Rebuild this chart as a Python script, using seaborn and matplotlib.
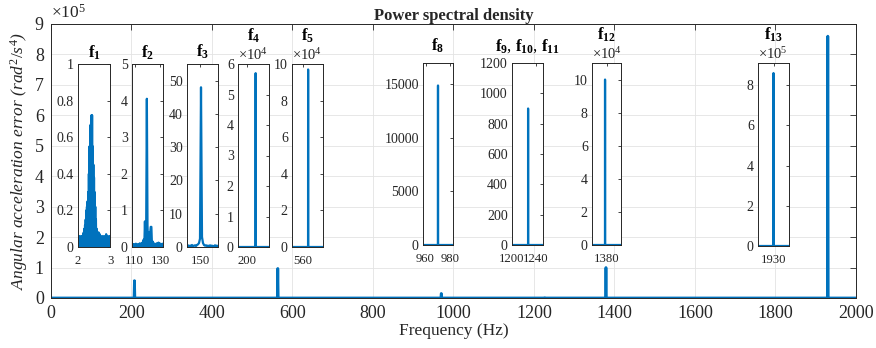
import numpy as np
import pandas as pd
import matplotlib
matplotlib.use("Agg")
import matplotlib.pyplot as plt
import seaborn as sns

# ---------------- data ----------------
# main spectrum peaks (Hz, rad^2/s^4)
peak_freqs = [2.44, 119.5, 151, 208, 564, 970, 1227, 1379, 1930]
peak_psd = [0.72, 4.05, 48, 5.7e4, 9.7e4, 1.49e4, 900, 1.0e5, 8.6e5]
main_xticks = [0, 200, 400, 600, 800, 1000, 1200, 1400, 1600, 1800, 2000]
main_yticks = [0, 1, 2, 3, 4, 5, 6, 7, 8, 9]

# inset f1 (2..3 Hz, step 0.01) - dense noisy PSD
f1_psd = [0.04, 0.01, 0.05, 0.00, 0.06, 0.01, 0.04, 0.00, 0.05, 0.01, 0.06,
          0.00, 0.05, 0.01, 0.06, 0.00, 0.07, 0.01, 0.08, 0.00, 0.10,
          0.01, 0.12, 0.00, 0.15, 0.01, 0.20, 0.00, 0.22, 0.01, 0.25,
          0.00, 0.30, 0.01, 0.40, 0.00, 0.55, 0.01, 0.66, 0.00, 0.67,
          0.01, 0.72, 0.00, 0.72, 0.01, 0.55, 0.00, 0.45, 0.01, 0.38,
          0.00, 0.30, 0.01, 0.22, 0.00, 0.15, 0.01, 0.10, 0.00, 0.08,
          0.01, 0.07, 0.00, 0.08, 0.01, 0.06, 0.00, 0.07, 0.01, 0.05,
          0.00, 0.06, 0.01, 0.04, 0.00, 0.05, 0.01, 0.06, 0.00, 0.04,
          0.01, 0.05, 0.00, 0.06, 0.01, 0.04, 0.00, 0.07, 0.01, 0.05,
          0.00, 0.06, 0.01, 0.04, 0.00, 0.05, 0.01, 0.06, 0.00, 0.05]
# inset f2 (108..132 Hz, step 0.5)
f2_psd = [0.06, 0.01, 0.08, 0.00, 0.07, 0.01, 0.09, 0.00, 0.07, 0.01,
          0.08, 0.00, 0.10, 0.01, 0.09, 0.00, 0.12, 0.01, 0.20, 0.00,
          0.70, 0.01, 0.72, 4.05, 0.60, 0.01, 0.40, 0.00, 0.35, 0.55,
          0.55, 0.01, 0.15, 0.00, 0.10, 0.01, 0.08, 0.00, 0.10, 0.01,
          0.07, 0.12, 0.00, 0.10, 0.01, 0.08, 0.00, 0.09, 0.07]
# inset f3 (137..168 Hz, step 1)
f3_psd = [0.3, 0.5, 0.2, 0.4, 0.3, 0.6, 0.2, 0.4, 0.5, 0.3,
          0.6, 0.8, 1.2, 2.5, 48, 3.0, 1.2, 0.6, 0.4, 0.5,
          0.3, 0.4, 0.2, 0.5, 0.3, 0.4, 0.2, 0.3, 0.5, 0.3,
          0.4, 0.2]

# inset definitions
inset_titles = [r"$\mathbf{f_1}$", r"$\mathbf{f_2}$", r"$\mathbf{f_3}$", r"$\mathbf{f_4}$",
                r"$\mathbf{f_5}$", r"$\mathbf{f_8}$",
                r"$\mathbf{f_9}$, $\mathbf{f_{10}}$, $\mathbf{f_{11}}$",
                r"$\mathbf{f_{12}}$", r"$\mathbf{f_{13}}$"]
inset_xlims = [(2, 3), (108, 132), (137, 168), (191.5, 220.5), (551, 576),
               (958, 982), (1200, 1252), (1370, 1390), (1920, 1940)]
inset_xticks = [[2, 3], [110, 130], [150], [200], [560], [960, 980], [1200, 1240], [1380], [1930]]
inset_ylims = [(0, 1), (0, 5), (0, 55), (0, 6e4), (0, 10e4), (0, 17000), (0, 1200), (0, 11e4), (0, 9.1e5)]
inset_yticks = [[0, 0.2, 0.4, 0.6, 0.8, 1], [0, 1, 2, 3, 4, 5], [0, 10, 20, 30, 40, 50],
                [0, 1, 2, 3, 4, 5, 6], [0, 2, 4, 6, 8, 10], [0, 5000, 10000, 15000],
                [0, 200, 400, 600, 800, 1000, 1200], [0, 2, 4, 6, 8, 10], [0, 2, 4, 6, 8]]
inset_ytick_labels = [["0", "0.2", "0.4", "0.6", "0.8", "1"], None, None, None, None,
                      None, None, None, None]
inset_exps = [0, 0, 0, 4, 4, 0, 0, 4, 5]

# ---------------- layout (pixels) ----------------
W, H = 876, 348
def pos(l, r, t, b):
    return [l / W, 1 - b / H, (r - l) / W, (b - t) / H]

inset_boxes = [(78, 110, 64, 247), (132, 163, 64, 247), (187, 218, 64, 247),
               (238, 269, 64, 247), (292, 323, 64, 247), (423, 453, 63, 245),
               (512, 543, 63, 245), (592, 621, 63, 245), (758, 789, 63, 246)]
title_off = [11, 11, 12, 28, 28, 17, 17, 28, 28]

sns.set_theme(style="white")
plt.rcParams["font.family"] = ["Liberation Serif", "DejaVu Serif"]
plt.rcParams["mathtext.fontset"] = "custom"
plt.rcParams["mathtext.rm"] = "Liberation Serif"
plt.rcParams["mathtext.it"] = "Liberation Serif:italic"
plt.rcParams["mathtext.bf"] = "Liberation Serif:bold"

BLUE = "#0072BD"
DARK = "#262626"

fig = plt.figure(figsize=(W / 100, H / 100), dpi=100)
ax = fig.add_axes(pos(50.7, 856, 24, 298))

# main spectrum from peak lists
mf, mp = [0.0], [0.0]
for f, p in zip(peak_freqs, peak_psd):
    mf += [f - 1, f, f + 1]
    mp += [0.0, p, 0.0]
mf.append(2000.0)
mp.append(0.0)
main_df = pd.DataFrame({"freq": mf, "psd": mp})
sns.lineplot(data=main_df, x="freq", y="psd", ax=ax, estimator=None, sort=False,
             color=BLUE, linewidth=2.0)
ax.set_xlim(0, 2000)
ax.set_ylim(0, 9e5)
ax.set_xticks(main_xticks)
ax.set_xticklabels([str(t) for t in main_xticks])
ax.set_yticks([v * 1e5 for v in main_yticks])
ax.set_yticklabels([str(v) for v in main_yticks])
ax.grid(True, color="#e3e3e3", linewidth=0.6)
ax.tick_params(direction="in", top=True, right=True, length=4, width=0.6,
               labelsize=13, colors=DARK, pad=5)
for s in ax.spines.values():
    s.set_color(DARK)
    s.set_linewidth(0.7)
ax.set_xlabel("Frequency (Hz)", fontsize=12.5, color=DARK, labelpad=1)
ax.set_ylabel(r"Angular acceleration error ($rad^2/s^4$)", fontsize=12.5,
              fontstyle="italic", color=DARK, labelpad=3)
ax.set_title("Power spectral density", fontsize=12, fontweight="bold", pad=3)
ax.text(0.0, 1.008, r"$\times10^{5}$", transform=ax.transAxes, fontsize=12.5,
        color=DARK, ha="left", va="bottom")

# inset data
def spike(xlim, f, p):
    return [xlim[0], f - 0.05, f, f + 0.05, xlim[1]], [0, 0, p, 0, 0]

inset_data = [
    (list(np.round(np.linspace(2, 3, len(f1_psd)), 3)), f1_psd),
    (list(np.linspace(108, 132, len(f2_psd))), f2_psd),
    (list(np.linspace(137, 168, len(f3_psd))), f3_psd),
    spike(inset_xlims[3], peak_freqs[3], peak_psd[3]),
    spike(inset_xlims[4], peak_freqs[4], peak_psd[4]),
    spike(inset_xlims[5], peak_freqs[5], peak_psd[5]),
    spike(inset_xlims[6], peak_freqs[6], peak_psd[6]),
    spike(inset_xlims[7], peak_freqs[7], peak_psd[7]),
    spike(inset_xlims[8], peak_freqs[8], peak_psd[8]),
]

for i in range(len(inset_titles)):
    l, r, t, b = inset_boxes[i]
    iax = fig.add_axes(pos(l, r, t, b))
    iax.set_facecolor("white")
    xs, ys = inset_data[i]
    df = pd.DataFrame({"freq": xs, "psd": ys})
    sns.lineplot(data=df, x="freq", y="psd", ax=iax, estimator=None, sort=False,
                 color=BLUE, linewidth=1.6)
    iax.set_xlim(*inset_xlims[i])
    iax.set_ylim(*inset_ylims[i])
    iax.set_xticks(inset_xticks[i])
    iax.set_xticklabels([str(v) for v in inset_xticks[i]])
    e = inset_exps[i]
    yt = inset_yticks[i]
    if e:
        iax.set_yticks([v * 10 ** e for v in yt])
    else:
        iax.set_yticks(yt)
    if inset_ytick_labels[i] is not None:
        iax.set_yticklabels(inset_ytick_labels[i])
    else:
        iax.set_yticklabels([str(v) for v in yt])
    iax.set_xlabel("")
    iax.set_ylabel("")
    iax.tick_params(direction="in", top=True, right=True, length=2.5, width=0.6,
                    labelsize=10, colors=DARK, pad=3)
    iax.tick_params(axis="x", labelsize=9.2, pad=6)
    for s in iax.spines.values():
        s.set_color(DARK)
        s.set_linewidth(0.7)
    hpx = b - t
    iax.text(0.5, 1 + title_off[i] / hpx, inset_titles[i], transform=iax.transAxes,
             ha="center", va="center", fontsize=12, color="black")
    if e:
        iax.text(0.0, 1.005, r"$\times10^{%d}$" % e, transform=iax.transAxes,
                 ha="left", va="bottom", fontsize=10.5, color=DARK)

fig.savefig("out.png", dpi=100)
